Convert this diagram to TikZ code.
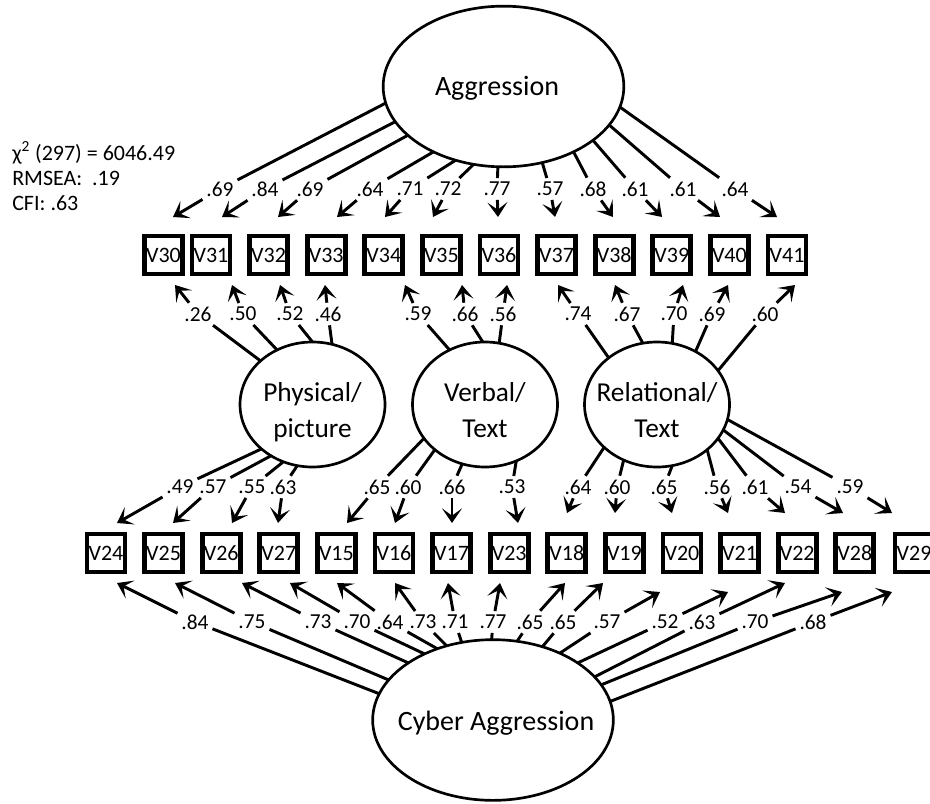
\documentclass[tikz,border=0pt]{standalone}
\usepackage{fontspec}
\setmainfont{Carlito}
\usetikzlibrary{shapes.geometric,arrows.meta}

\tikzset{
  lv/.style={ellipse, draw, line width=2pt, inner sep=0pt, outer sep=0pt},
  bigfactor/.style={lv, minimum width=180.5pt, minimum height=120.5pt},
  subfactor/.style={lv, minimum width=108.75pt, minimum height=93.75pt},
  bigname/.style={font=\fontsize{21}{25}\selectfont, inner sep=0pt},
  subname/.style={font=\fontsize{20.5}{27}\selectfont, align=center, inner sep=0pt},
  obs/.style={draw, line width=3.6pt, minimum size=28.5pt, inner sep=0pt, outer sep=0pt,
              font=\fontsize{16.5}{18}\selectfont},
  coef/.style={font=\fontsize{16}{18}\selectfont, inner sep=3pt, outer sep=0pt},
  loadline/.style={line width=2.2pt},
  loadarrow/.style={loadline,
    -{Stealth[length=11pt,width=15pt,inset=5.5pt]}},
  fitstat/.style={font=\fontsize{16.5}{18}\selectfont, anchor=base west, inner sep=0pt},
}

% one factor loading: line from the factor to its coefficient, arrow on to the item
\newcommand\loading[5]{%
  \node[coef] (c#1) at (#3) {#4};
  \coordinate (t#1) at (#5);
  \draw[loadline] (#2) -- (c#1);
  \draw[loadarrow] (c#1) -- (t#1);
}

\begin{document}
\begin{tikzpicture}[x=0.75pt,y=-0.75pt]
\useasboundingbox (0,0) rectangle (930,803);
\fill[white] (0,0) rectangle (930,803);
\clip (0,0) rectangle (930,803);

% fit statistics
\node[fitstat] (chi) at (12,160) {χ\textsuperscript{2} (297) = 6046.49};
\node[fitstat] (rmsea) at (12,185) {RMSEA:\ \ .19};
\node[fitstat] (cfi) at (12,210) {CFI: .63};

% latent factors
\node[bigfactor] (agg) at (503.5,86.5) {};
\node[bigname] (agg-t) at (497,88.5) {Aggression};
\node[subfactor] (phy) at (312.5,404.5) {};
\node[subname] (phy-t) at (312.5,412.5) {Physical/\\picture};
\node[subfactor] (ver) at (485,404.5) {};
\node[subname] (ver-t) at (485,410) {Verbal/\\Text};
\node[subfactor] (rel) at (657,404.5) {};
\node[subname] (rel-t) at (657,410) {Relational/\\Text};
\node[bigfactor] (cyb) at (493,720) {};
\node[bigname] (cyb-t) at (496,723) {Cyber Aggression};

% observed items
\foreach \n/\x in {30/163.5,31/211,32/268.6,33/326.2,34/383.8,35/441.4,
                   36/499,37/556.6,38/614.2,39/671.8,40/729.4,41/787}
  \node[obs] (b\n) at (\x,255) {V\n};
\foreach \n/\x in {24/106,25/163.6,26/221.2,27/278.8,15/336.4,16/394,17/451.6,
                   23/509.2,18/566.8,19/624.4,20/682,21/739.6,22/797.2,28/854.8,29/914}
  \node[obs] (b\n) at (\x,553) {V\n};

% Aggression
\loading{a30}{agg.188}{220,189}{.69}{173,217}
\loading{a31}{agg.198}{265,189}{.84}{222,217}
\loading{a32}{agg.207}{310,189}{.69}{278,217}
\loading{a33}{agg.223}{370,189}{.64}{337,217}
\loading{a34}{agg.237}{410,189}{.71}{385,217}
\loading{a35}{agg.249}{448,189}{.72}{433,217}
\loading{a36}{agg.266}{497,189}{.77}{498,217}
\loading{a37}{agg.297}{550,189}{.57}{555,217}
\loading{a38}{agg.317}{593,189}{.68}{613,217}
\loading{a39}{agg.329}{635,189}{.61}{662,217}
\loading{a40}{agg.340}{683,189}{.61}{720,217}
\loading{a41}{agg.350}{735,189}{.64}{777,217}

% Physical/picture
\loading{p30}{phy.140}{198,314}{.26}{175,285}
\loading{p31}{phy.123}{243,314}{.50}{232,285}
\loading{p32}{phy.90}{290,314}{.52}{280,285}
\loading{p33}{phy.72}{328,314}{.46}{325,285}
\loading{p24}{phy.221}{180,487}{.49}{117,523}
\loading{p25}{phy.231}{213,487}{.57}{173,523}
\loading{p26}{phy.243}{252,487}{.55}{232,523}
\loading{p27}{phy.256}{283,487}{.63}{278,523}

% Verbal/Text
\loading{v34}{ver.123}{418,314}{.59}{405,285}
\loading{v35}{ver.92}{465,314}{.66}{462,285}
\loading{v36}{ver.77}{503,314}{.56}{507,285}
\loading{v15}{ver.209}{377,487}{.65}{347,523}
\loading{v16}{ver.222}{408,487}{.60}{395,523}
\loading{v17}{ver.249}{452,487}{.66}{452,523}
\loading{v23}{ver.299}{512,487}{.53}{518,523}

% Relational/Text
\loading{r37}{rel.136}{578,314}{.74}{558,285}
\loading{r38}{rel.103}{627,314}{.67}{615,285}
\loading{r39}{rel.76}{674,314}{.70}{683,285}
\loading{r40}{rel.54}{712,314}{.69}{728,285}
\loading{r41}{rel.29}{765,314}{.60}{795,285}
\loading{r18}{rel.219}{578,487}{.64}{567,513}
\loading{r19}{rel.239}{617,487}{.60}{615,513}
\loading{r20}{rel.284}{664,487}{.65}{672,513}
\loading{r21}{rel.318}{717,487}{.56}{728,513}
\loading{r22}{rel.331}{755,487}{.61}{785,513}
\loading{r28}{rel.339}{798,487}{.54}{843,513}
\loading{r29}{rel.348}{850,487}{.59}{892,513}

% Cyber Aggression
\loading{c24}{cyb.167}{195,622}{.84}{117,583}
\loading{c25}{cyb.159}{252,622}{.75}{175,583}
\loading{c26}{cyb.146}{318,622}{.73}{242,583}
\loading{c27}{cyb.136}{357,622}{.70}{290,583}
\loading{c15}{cyb.128}{390,622}{.64}{337,583}
\loading{c16}{cyb.122}{423,622}{.73}{395,583}
\loading{c17}{cyb.112}{455,622}{.71}{448,583}
\loading{c23}{cyb.91}{493,622}{.77}{500,583}
\loading{c18}{cyb.73}{530,622}{.65}{565,583}
\loading{c19}{cyb.56}{563,622}{.65}{603,583}
\loading{c20}{cyb.45}{607,622}{.57}{660,592}
\loading{c21}{cyb.34}{665,622}{.52}{728,592}
\loading{c22}{cyb.23}{702,622}{.63}{785,583}
\loading{c28}{cyb.18}{755,622}{.70}{842,592}
\loading{c29}{cyb.9}{813,622}{.68}{892,592}
\end{tikzpicture}
\end{document}
